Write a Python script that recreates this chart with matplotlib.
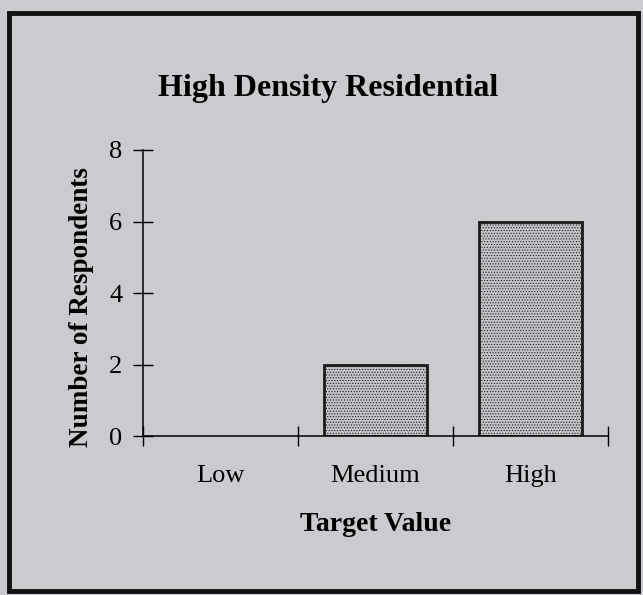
import numpy as np
import matplotlib.pyplot as plt
from matplotlib.patches import Rectangle

categories = ["Low", "Medium", "High"]
respondents = [0, 2, 6]
y_ticks = [0, 2, 4, 6, 8]

BG = "#cbcacf"
plt.rcParams["font.family"] = ["Liberation Serif", "DejaVu Serif"]
plt.rcParams["hatch.linewidth"] = 0.5
plt.rcParams["hatch.color"] = "#9a9a9e"

fig = plt.figure(figsize=(6.43, 5.95), dpi=100, facecolor=BG)
ax = fig.add_axes([0.2224, 0.2672, 0.7232, 0.4807])
ax.set_facecolor(BG)

x = np.arange(1, len(categories) + 1)
# no outline for an empty bar, as in the original
edges = [2.0 if v > 0 else 0 for v in respondents]
ax.bar(x, respondents, width=0.67, color="#c4c4c8", edgecolor="#1a1a1a",
       linewidth=edges, hatch="......")

ax.set_xlim(0.5, len(categories) + 0.5)
ax.set_ylim(0, 8)
ax.set_yticks(y_ticks)
ax.set_xticks(x)
ax.set_xticklabels(categories)
ax.set_xticks(np.arange(0.5, len(categories) + 1, 1.0), minor=True)
ax.tick_params(axis="x", which="major", length=0, pad=21, labelsize=19)
ax.tick_params(axis="x", which="minor", direction="inout", length=14, width=1.0)
ax.tick_params(axis="y", direction="inout", length=14, width=1.0, pad=8,
               labelsize=19)

for side in ["top", "right"]:
    ax.spines[side].set_visible(False)
for side in ["left", "bottom"]:
    ax.spines[side].set_linewidth(1.1)

ax.set_xlabel("Target Value", fontsize=20, fontweight="bold", labelpad=18)
ax.set_ylabel("Number of Respondents", fontsize=19.5, fontweight="bold",
              va="center")
ax.yaxis.set_label_coords(-0.132, 0.45)
fig.text(0.511, 0.852, "High Density Residential", ha="center", va="center",
         fontsize=23, fontweight="bold")

# outer frame
fig.patches.append(Rectangle((0.014, 0.006), 0.978, 0.972, transform=fig.transFigure,
                             fill=False, edgecolor="#111111", linewidth=3.5))

plt.savefig("out.png", dpi=100, facecolor=BG)
